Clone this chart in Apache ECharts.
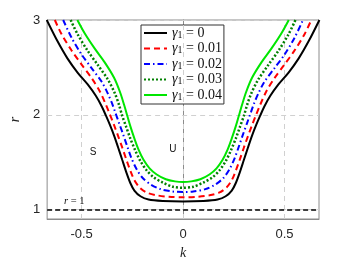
<!DOCTYPE html>
<html><head><meta charset="utf-8">
<script src="https://cdn.jsdelivr.net/npm/echarts@6/dist/echarts.min.js"></script>
<style>html,body{margin:0;padding:0;background:#fff}#c{width:353px;height:265px}</style>
</head><body><div id="c"></div>
<script>
var seriesNames = ['{g|γ}{s|1}{t| = 0}', '{g|γ}{s|1}{t| = 0.01}', '{g|γ}{s|1}{t| = 0.02}', '{g|γ}{s|1}{t| = 0.03}', '{g|γ}{s|1}{t| = 0.04}'];
var xTicks = [-0.5, 0, 0.5];
var yTicks = [1, 2, 3];
var gamma0 = [[-0.672,3.0],[-0.62,2.78],[-0.57,2.595],[-0.52,2.445],[-0.47,2.32],[-0.43,2.2],[-0.40,2.085],[-0.38,1.99],[-0.36,1.89],[-0.34,1.78],[-0.32,1.655],[-0.30,1.525],[-0.28,1.395],[-0.26,1.28],[-0.24,1.2],[-0.21,1.14],[-0.17,1.105],[-0.10,1.09],[0,1.085],
  [0.10,1.09],[0.17,1.105],[0.21,1.14],[0.24,1.2],[0.26,1.28],[0.28,1.395],[0.30,1.525],[0.32,1.655],[0.34,1.78],[0.36,1.89],[0.38,1.99],[0.40,2.085],[0.43,2.2],[0.47,2.32],[0.52,2.445],[0.57,2.595],[0.62,2.78],[0.672,3.0]];
var gamma1 = [[-0.632,3.0],[-0.60,2.855],[-0.55,2.68],[-0.50,2.53],[-0.45,2.385],[-0.41,2.245],[-0.38,2.105],[-0.36,2.0],[-0.34,1.89],[-0.32,1.775],[-0.30,1.655],[-0.28,1.53],[-0.26,1.41],[-0.24,1.31],[-0.215,1.235],[-0.18,1.18],[-0.13,1.15],[-0.07,1.135],[0,1.13],
  [0.07,1.135],[0.13,1.15],[0.18,1.18],[0.215,1.235],[0.24,1.31],[0.26,1.41],[0.28,1.53],[0.30,1.655],[0.32,1.775],[0.34,1.89],[0.36,2.0],[0.38,2.105],[0.41,2.245],[0.45,2.385],[0.50,2.53],[0.55,2.68],[0.60,2.855],[0.632,3.0]];
var gamma2 = [[-0.591,3.0],[-0.55,2.815],[-0.50,2.635],[-0.45,2.49],[-0.40,2.345],[-0.37,2.22],[-0.35,2.12],[-0.335,2.03],[-0.315,1.91],[-0.295,1.79],[-0.275,1.665],[-0.255,1.545],[-0.23,1.43],[-0.20,1.335],[-0.16,1.265],[-0.11,1.215],[-0.05,1.19],[0,1.185],
  [0.05,1.19],[0.11,1.215],[0.16,1.265],[0.20,1.335],[0.23,1.43],[0.255,1.545],[0.275,1.665],[0.295,1.79],[0.315,1.91],[0.335,2.03],[0.35,2.12],[0.37,2.22],[0.40,2.345],[0.45,2.49],[0.50,2.635],[0.55,2.815],[0.591,3.0]];
var gamma3 = [[-0.554,3.0],[-0.52,2.85],[-0.47,2.675],[-0.42,2.525],[-0.37,2.37],[-0.335,2.22],[-0.315,2.1],[-0.30,1.99],[-0.28,1.87],[-0.26,1.75],[-0.235,1.62],[-0.21,1.51],[-0.18,1.415],[-0.145,1.34],[-0.10,1.285],[-0.05,1.24],[0,1.23],
  [0.05,1.24],[0.10,1.285],[0.145,1.34],[0.18,1.415],[0.21,1.51],[0.235,1.62],[0.26,1.75],[0.28,1.87],[0.30,1.99],[0.315,2.1],[0.335,2.22],[0.37,2.37],[0.42,2.525],[0.47,2.675],[0.52,2.85],[0.554,3.0]];
var gamma4 = [[-0.521,3.0],[-0.485,2.86],[-0.436,2.7],[-0.387,2.555],[-0.34,2.39],[-0.31,2.235],[-0.29,2.1],[-0.275,1.99],[-0.26,1.88],[-0.24,1.75],[-0.22,1.635],[-0.195,1.525],[-0.165,1.435],[-0.13,1.37],[-0.085,1.32],[-0.04,1.297],[0,1.29],
  [0.04,1.297],[0.085,1.32],[0.13,1.37],[0.165,1.435],[0.195,1.525],[0.22,1.635],[0.24,1.75],[0.26,1.88],[0.275,1.99],[0.29,2.1],[0.31,2.235],[0.34,2.39],[0.387,2.555],[0.436,2.7],[0.485,2.86],[0.521,3.0]];
var refLine = 1;
var annotations = [{text:'S', k:-0.443, r:1.6}, {text:'U', k:-0.05, r:1.64}];
var rLabel = {k:-0.536, r:1.09};

var chart = echarts.init(document.getElementById('c'), null, {renderer:'canvas'});
var gridColor = '#d0d0d0';
function lineSeries(name, data, color, type, width) {
  return {name:name, type:'line', data:data, symbol:'none', smooth:0.3, smoothMonotone:'none', clip:true,
    lineStyle:{color:color, type:type, width:width, cap:'butt'}, itemStyle:{color:color}, z:5};
}
var series = [
  {type:'line', data:[], silent:true, z:1,
    markLine:{silent:true, symbol:'none', label:{show:false},
      lineStyle:{color:gridColor, type:[5,4], width:1},
      data: xTicks.map(function(v){return {xAxis:v};}).concat(yTicks.map(function(v){return {yAxis:v};}))}},
  {type:'line', data:[], silent:true, z:6,
    markLine:{silent:true, symbol:'none', label:{show:false},
      lineStyle:{color:'#000', type:[5,3], width:1.5},
      data:[{yAxis:refLine}]},
    markPoint:{silent:true, symbol:'circle', symbolSize:0,
      data: annotations.map(function(a){return {coord:[a.k,a.r], value:a.text,
        label:{show:true, formatter:a.text, color:'#111', fontSize:10, fontFamily:'Liberation Sans'}};}).concat([
        {coord:[rLabel.k, rLabel.r], value:'r',
          label:{show:true, formatter:'{i|r}{n| = 1}', color:'#111',
            rich:{i:{fontStyle:'italic', fontSize:10.5, fontFamily:'Liberation Serif', color:'#111'},
                  n:{fontSize:10.5, fontFamily:'Liberation Serif', color:'#111'}}}}])}},
  lineSeries(seriesNames[0], gamma0, '#000000', 'solid', 2),
  lineSeries(seriesNames[1], gamma1, '#ff0000', [6,4], 2),
  lineSeries(seriesNames[2], gamma2, '#0000ff', [6,3,1.5,3], 2),
  lineSeries(seriesNames[3], gamma3, '#008000', [2,2], 2.5),
  lineSeries(seriesNames[4], gamma4, '#00e600', 'solid', 2)
];
chart.setOption({
  animation:false,
  backgroundColor:'#fff',
  grid:{left:46, right:34, top:20, bottom:44, show:true, borderColor:'#8c8c8c', borderWidth:1, backgroundColor:'transparent'},
  xAxis:{type:'value', min:-0.67, max:0.67, name:'k', nameLocation:'middle', nameGap:27,
    nameTextStyle:{fontFamily:'Liberation Serif', fontStyle:'italic', fontSize:14, color:'#222'},
    axisLine:{show:true, lineStyle:{color:'#8c8c8c'}},
    axisTick:{show:true, inside:true, length:3, customValues:xTicks, lineStyle:{color:'#8c8c8c'}},
    axisLabel:{customValues:xTicks, fontFamily:'Liberation Sans', fontSize:13, color:'#262626', margin:9,
      formatter:function(v){return String(v);}},
    splitLine:{show:false}},
  yAxis:{type:'value', min:0.9, max:3, name:'r', nameLocation:'middle', nameGap:25,
    nameTextStyle:{fontFamily:'Liberation Serif', fontStyle:'italic', fontSize:14, color:'#222'},
    axisLine:{show:true, lineStyle:{color:'#8c8c8c'}},
    axisTick:{show:true, inside:true, length:3, customValues:yTicks, lineStyle:{color:'#8c8c8c'}},
    axisLabel:{customValues:yTicks, fontFamily:'Liberation Sans', fontSize:13, color:'#262626', margin:7},
    splitLine:{show:false}},
  legend:{data:seriesNames, orient:'vertical', left:141, top:25,
    itemWidth:23, itemHeight:4, itemGap:1.5, padding:[1,2,2,2],
    itemStyle:{opacity:0, borderWidth:0},
    backgroundColor:'#fff', borderColor:'#333', borderWidth:1, borderRadius:0,
    textStyle:{fontFamily:'Liberation Serif', fontSize:14, color:'#111', lineHeight:14,
      rich:{g:{fontFamily:'Liberation Serif', fontSize:14, fontStyle:'italic', lineHeight:14, verticalAlign:'middle', color:'#111'},
            s:{fontFamily:'Liberation Serif', fontSize:10, lineHeight:6, verticalAlign:'bottom', color:'#111'},
            t:{fontFamily:'Liberation Serif', fontSize:14, lineHeight:14, verticalAlign:'middle', color:'#111'}}}},
  series:series
});
</script></body></html>
